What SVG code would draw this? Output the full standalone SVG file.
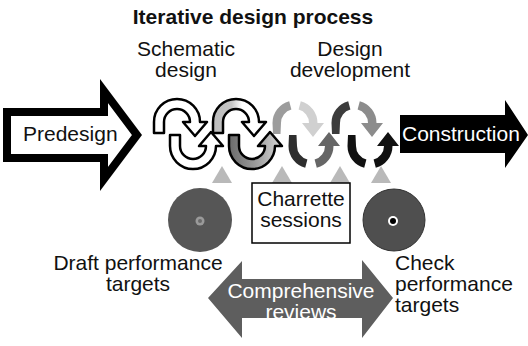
<svg xmlns="http://www.w3.org/2000/svg" xmlns:xlink="http://www.w3.org/1999/xlink" width="528" height="346" viewBox="0 0 528 346">
<style>
text{font-family:"Liberation Sans",Arial,sans-serif;font-size:21px;fill:#111}
.title{font-weight:bold;font-size:21px}
.w{fill:#fff}
.c{text-anchor:middle}
.ol{stroke:#000;stroke-width:2.5;stroke-linejoin:round}
.tri{fill:#b9b9b9}
</style>
<defs>
<path id="up" d="M-23,11 L-23,0 A23,23 0 0 1 23,0 L30,0 L18,14 L6,0 L13,0 A13,13 0 0 0 -13,0 L-13,11 Z"/>
<path id="lo" d="M-23,-11 L-23,0 A23,23 0 0 0 23,0 L30,0 L18,-14 L6,0 L13,0 A13,13 0 0 1 -13,0 L-13,-11 Z"/>
<path id="upL" d="M-22,11 L-22.5,0 A22.5,22.5 0 0 1 -5.8,-21.7 L-3.6,-13.5 A14,14 0 0 0 -14,0 L-14.5,11 Z"/>
<path id="upR" d="M5.8,-21.7 A22.5,22.5 0 0 1 22.5,0 L29,0 L18,14 L7,0 L14,0 A14,14 0 0 0 3.6,-13.5 Z"/>
<path id="loL" d="M-22,-11 L-22.5,0 A22.5,22.5 0 0 0 -5.8,21.7 L-3.6,13.5 A14,14 0 0 1 -14,0 L-14.5,-11 Z"/>
<path id="loR" d="M5.8,21.7 A22.5,22.5 0 0 0 22.5,0 L29,0 L18,-14 L7,0 L14,0 A14,14 0 0 1 3.6,13.5 Z"/>
<linearGradient id="gUp" x1="0" y1="0" x2="1" y2="0">
<stop offset="0" stop-color="#bdbdbd"/><stop offset="0.35" stop-color="#c4c4c4"/><stop offset="0.55" stop-color="#fff"/>
</linearGradient>
<linearGradient id="gLo" x1="0" y1="0" x2="1" y2="0">
<stop offset="0" stop-color="#6a6a6a"/><stop offset="0.5" stop-color="#9a9a9a"/><stop offset="1" stop-color="#d8d8d8"/>
</linearGradient>
</defs>
<rect width="528" height="346" fill="#fff"/>

<g id="title"><text class="title c" x="253" y="24">Iterative design process</text></g>

<g id="schematic-label"><text class="c" x="186" y="56">Schematic</text><text class="c" x="186" y="77">design</text></g>
<g id="dd-label"><text class="c" x="350" y="56">Design</text><text class="c" x="350" y="77">development</text></g>

<g id="predesign">
<path d="M7,112 L104,112 L104,91 L137,135 L104,179 L104,158 L7,158 Z" fill="#fff" stroke="#000" stroke-width="8" stroke-linejoin="miter"/>
<text x="23" y="141">Predesign</text>
</g>

<g id="construction">
<path d="M400,115 L505,115 L505,100 L528,135 L505,168 L505,153 L400,153 Z" fill="#000"/>
<text class="w" x="402" y="141">Construction</text>
</g>

<g id="connectors">
<g id="cycle1">
<use xlink:href="#up" x="177" y="122" fill="#fff" class="ol"/>
<use xlink:href="#lo" x="193" y="146" fill="#fff" class="ol"/>
</g>
<g id="cycle2">
<use xlink:href="#up" x="236" y="122" fill="url(#gUp)" class="ol"/>
<use xlink:href="#lo" x="252" y="146" fill="url(#gLo)" class="ol"/>
</g>
<g id="cycle3">
<use xlink:href="#upL" x="295" y="123" fill="#9c9c9c"/>
<use xlink:href="#upR" x="295" y="123" fill="#d0d0d0"/>
<use xlink:href="#loL" x="311" y="146" fill="#2e2e2e"/>
<use xlink:href="#loR" x="311" y="146" fill="#666"/>
</g>
<g id="cycle4">
<use xlink:href="#upL" x="354" y="123" fill="#3c3c3c"/>
<use xlink:href="#upR" x="354" y="123" fill="#8c8c8c"/>
<use xlink:href="#loL" x="370" y="146" fill="#111"/>
<use xlink:href="#loR" x="370" y="146" fill="#111"/>
</g>
<g id="triangles">
<polygon class="tri" points="222,166 232,183 212,183"/>
<polygon class="tri" points="282,166 292,183 272,183"/>
<polygon class="tri" points="340,166 350,183 330,183"/>
<polygon class="tri" points="381,166 391,183 371,183"/>
</g>
</g>

<g id="charrette">
<rect x="252" y="183" width="98" height="60" fill="#fff" stroke="#000" stroke-width="1.5"/>
<text class="c" x="301" y="206">Charrette</text>
<text class="c" x="301" y="227">sessions</text>
</g>

<g id="disc-left">
<circle cx="200" cy="220" r="32" fill="#565656"/>
<circle cx="200" cy="221" r="4.5" fill="#9a9a9a"/>
<circle cx="200" cy="221" r="2" fill="#6a6a6a"/>
</g>

<g id="disc-right">
<circle cx="394" cy="220" r="31" fill="#4f4f4f" stroke="#333" stroke-width="1"/>
<circle cx="393" cy="221" r="5" fill="#fff"/>
<circle cx="393" cy="221" r="3" fill="#000"/>
</g>

<g id="draft-label"><text class="c" x="138" y="270">Draft performance</text><text class="c" x="138" y="291">targets</text></g>

<g id="check-label"><text x="395" y="270">Check</text><text x="395" y="291">performance</text><text x="395" y="312">targets</text></g>

<g id="reviews">
<polygon points="208,298 242,261 242,279 362,279 362,260 393,298 362,338 362,318 242,318 242,338" fill="#5e5e5e"/>
<text class="w c" x="301" y="298">Comprehensive</text>
<text class="w c" x="301" y="319">reviews</text>
</g>
</svg>
